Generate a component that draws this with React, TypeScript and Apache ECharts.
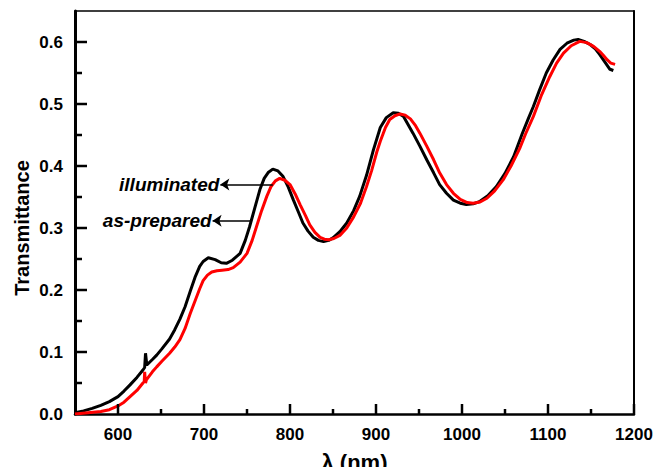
import { useEffect, useRef } from "react";
import * as echarts from "echarts";

// illuminated (black)
const illumWl = [550, 560, 570, 580, 590, 600, 607, 614, 622, 629, 631, 632, 633.5, 640, 645, 651, 660, 666, 672, 678, 684, 690, 695, 699, 705, 713, 720, 726, 733, 742, 748, 753, 759, 765, 770, 775, 780, 786, 792, 798, 804, 810, 815, 821, 827, 833, 839, 845, 850, 858, 866, 874, 881, 889, 897, 905, 912, 920, 926, 932, 943, 951, 959, 967, 974, 982, 990, 998, 1005, 1013, 1021, 1030, 1040, 1050, 1060, 1070, 1077, 1083, 1090, 1098, 1106, 1114, 1122, 1130, 1135, 1142, 1149, 1155, 1160, 1166, 1172, 1176];
const illumT = [0.002, 0.005, 0.009, 0.014, 0.020, 0.028, 0.037, 0.047, 0.059, 0.071, 0.075, 0.098, 0.079, 0.088, 0.095, 0.105, 0.121, 0.136, 0.153, 0.173, 0.198, 0.222, 0.238, 0.246, 0.252, 0.249, 0.244, 0.243, 0.248, 0.259, 0.280, 0.302, 0.332, 0.362, 0.380, 0.390, 0.395, 0.392, 0.383, 0.366, 0.345, 0.325, 0.308, 0.295, 0.285, 0.280, 0.278, 0.280, 0.284, 0.294, 0.308, 0.328, 0.351, 0.385, 0.426, 0.462, 0.478, 0.486, 0.485, 0.480, 0.453, 0.432, 0.410, 0.389, 0.370, 0.356, 0.345, 0.340, 0.338, 0.339, 0.343, 0.352, 0.367, 0.388, 0.415, 0.452, 0.476, 0.496, 0.522, 0.550, 0.571, 0.588, 0.598, 0.603, 0.604, 0.601, 0.596, 0.589, 0.580, 0.568, 0.556, 0.554];

// as-prepared (red)
const prepWl = [550, 565, 580, 590, 600, 607, 614, 622, 629, 630.5, 631, 632, 633, 640, 645, 651, 660, 666, 672, 678, 684, 690, 695, 699, 704, 709, 715, 721, 728, 734, 742, 750, 756, 761, 767, 773, 778, 783, 788, 794, 800, 806, 812, 818, 823, 829, 835, 840, 845, 851, 858, 866, 874, 882, 889, 895, 901, 905, 911, 916, 922, 928, 934, 940, 946, 951, 959, 967, 974, 982, 990, 998, 1006, 1013, 1021, 1029, 1038, 1048, 1057, 1067, 1074, 1083, 1092, 1102, 1110, 1118, 1127, 1137, 1145, 1153, 1160, 1164, 1169, 1173, 1178];
const prepT = [0.000, 0.002, 0.004, 0.007, 0.013, 0.019, 0.028, 0.038, 0.050, 0.052, 0.068, 0.050, 0.055, 0.068, 0.076, 0.085, 0.098, 0.108, 0.120, 0.138, 0.162, 0.184, 0.202, 0.215, 0.224, 0.229, 0.231, 0.232, 0.233, 0.236, 0.245, 0.259, 0.280, 0.302, 0.328, 0.351, 0.367, 0.376, 0.380, 0.377, 0.370, 0.355, 0.337, 0.320, 0.305, 0.293, 0.285, 0.282, 0.281, 0.283, 0.288, 0.300, 0.318, 0.340, 0.367, 0.393, 0.423, 0.440, 0.462, 0.475, 0.481, 0.484, 0.482, 0.476, 0.465, 0.453, 0.432, 0.410, 0.389, 0.370, 0.356, 0.346, 0.341, 0.340, 0.342, 0.348, 0.360, 0.378, 0.400, 0.428, 0.452, 0.480, 0.513, 0.544, 0.566, 0.582, 0.594, 0.601, 0.599, 0.593, 0.585, 0.579, 0.571, 0.566, 0.564];

// axis ranges and ticks
const xRange = [550, 1200];
const yRange = [0, 0.65];
const yMajorStep = 0.1;
const yLabelMax = 0.6;
const xMajorTicks = [600, 700, 800, 900, 1000, 1100, 1200];
const xMinorTicks = [650, 750, 850, 950, 1050, 1150];
const yMajorTicks = [0.1, 0.2, 0.3, 0.4, 0.5, 0.6];
const yMinorTicks = [0.05, 0.15, 0.25, 0.35, 0.45, 0.55];

// annotation arrows (label, y level, arrow tip x, arrow tail x)
const annIlluminated = ["illuminated", 0.370, 719, 780] as const;
const annPrepared = ["as-prepared", 0.3115, 710, 754] as const;

const yTitle = "Transmittance";
const FONT = "'Liberation Sans', Arial, sans-serif";

export default function App() {
  const ref = useRef<HTMLDivElement>(null);
  useEffect(() => {
    if (!ref.current) return;
    const chart = echarts.init(ref.current, null, { renderer: "svg" });
    const annLine = (a: readonly [string, number, number, number]) => ({
      silent: true,
      symbol: ["arrow", "none"],
      symbolSize: 9,
      animation: false,
      lineStyle: { color: "#000", width: 1.5, type: "solid" },
      label: {
        show: true,
        position: "start",
        distance: 1,
        formatter: a[0],
        color: "#000",
        fontFamily: FONT,
        fontWeight: "bold",
        fontStyle: "italic",
        fontSize: 19,
      },
      data: [[{ coord: [a[2], a[1]] }, { coord: [a[3], a[1]] }]],
    });
    const toPairs = (xs: number[], ys: number[]) => xs.map((x, i) => [x, ys[i]]);
    const tickSeries = (values: number[], axis: "x" | "y", len: number) => ({
      type: "custom",
      coordinateSystem: "cartesian2d",
      xAxisIndex: 0,
      yAxisIndex: 0,
      silent: true,
      clip: false,
      z: 5,
      data: values.map((v) => (axis === "x" ? [v, yRange[0]] : [xRange[0], v])),
      renderItem: (_params: any, api: any) => {
        const p = api.coord([api.value(0), api.value(1)]);
        const shape =
          axis === "x"
            ? { x1: p[0], y1: p[1], x2: p[0], y2: p[1] - len }
            : { x1: p[0], y1: p[1], x2: p[0] + len, y2: p[1] };
        return { type: "line", shape, style: { stroke: "#000", lineWidth: 2.5, opacity: 1 } };
      },
    });
    const blank = { axisLine: { show: false }, axisLabel: { show: false }, splitLine: { show: false } };
    chart.setOption({
      animation: false,
      backgroundColor: "#fff",
      textStyle: { fontFamily: FONT },
      grid: { left: 75, right: 22, top: 11, bottom: 53, containLabel: false, outerBoundsMode: "none" },
      graphic: [
        {
          type: "text",
          x: 22,
          y: 228,
          rotation: Math.PI / 2,
          silent: true,
          style: {
            text: yTitle,
            fill: "#000",
            fontFamily: FONT,
            fontWeight: "bold",
            fontSize: 20,
            textAlign: "center",
            textVerticalAlign: "middle",
          },
        },
      ],
      xAxis: [
        {
          type: "value",
          position: "bottom",
          min: xRange[0],
          max: xRange[1],
          splitNumber: 6,
          name: "λ (nm)",
          nameLocation: "middle",
          nameGap: 37,
          nameTextStyle: { fontFamily: FONT, fontWeight: "bold", fontSize: 22, color: "#000" },
          axisLine: { show: true, onZero: false, lineStyle: { color: "#000", width: 2.5 } },
          axisTick: { show: false },
          axisLabel: {
            show: true,
            showMinLabel: false,
            margin: 12,
            fontFamily: FONT,
            fontWeight: "bold",
            fontSize: 17,
            color: "#000",
            formatter: (v: number) => (v === xRange[0] ? "" : String(v)),
          },
          splitLine: { show: false },
        },
        {
          type: "value",
          position: "top",
          min: xRange[0],
          max: xRange[1],
          ...blank,
          axisLine: { show: true, onZero: false, lineStyle: { color: "#000", width: 1.5 } },
          axisTick: { show: false },
        },
      ],
      yAxis: [
        {
          type: "value",
          position: "left",
          min: yRange[0],
          max: yRange[1],
          interval: yMajorStep,
          axisLine: { show: true, onZero: false, lineStyle: { color: "#000", width: 3 } },
          axisTick: { show: false },
          axisLabel: {
            show: true,
            showMaxLabel: false,
            margin: 12,
            fontFamily: FONT,
            fontWeight: "bold",
            fontSize: 17,
            color: "#000",
            formatter: (v: number) => (v > yLabelMax + 1e-9 ? "" : v.toFixed(1)),
          },
          splitLine: { show: false },
        },
        {
          type: "value",
          position: "right",
          min: yRange[0],
          max: yRange[1],
          ...blank,
          axisLine: { show: true, onZero: false, lineStyle: { color: "#000", width: 2 } },
          axisTick: { show: false },
        },
      ],
      series: [
        {
          name: "illuminated",
          type: "line",
          xAxisIndex: 0,
          yAxisIndex: 0,
          data: toPairs(illumWl, illumT),
          showSymbol: false,
          symbol: "none",
          lineStyle: { color: "#000000", width: 3 },
          itemStyle: { color: "#000000" },
          markLine: annLine(annIlluminated),
        },
        {
          name: "as-prepared",
          type: "line",
          xAxisIndex: 0,
          yAxisIndex: 0,
          data: toPairs(prepWl, prepT),
          showSymbol: false,
          symbol: "none",
          lineStyle: { color: "#ff0000", width: 3 },
          itemStyle: { color: "#ff0000" },
          markLine: annLine(annPrepared),
        },
        tickSeries(xMajorTicks, "x", 10),
        tickSeries(xMinorTicks, "x", 5),
        tickSeries(yMajorTicks, "y", 12),
        tickSeries(yMinorTicks, "y", 7),
      ],
    });
    return () => chart.dispose();
  }, []);
  return (
    <div
      ref={ref}
      style={{ position: "fixed", left: 0, top: 0, width: 656, height: 467, background: "#fff" }}
    />
  );
}
